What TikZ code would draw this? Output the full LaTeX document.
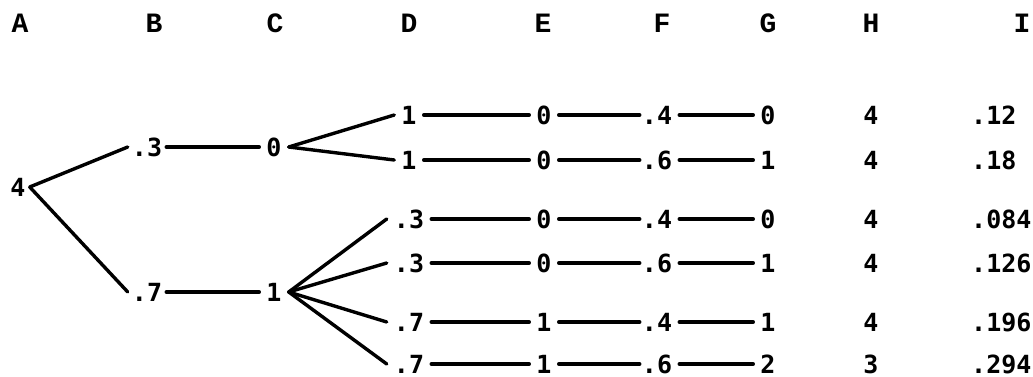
\documentclass[tikz,border=0pt]{standalone}
\usepackage{fontspec}
\newfontfamily\hdfont{Liberation Mono}
\newfontfamily\numfont{DejaVu Sans Mono}
\begin{document}
\begin{tikzpicture}[x=1pt,y=-1pt,
  hd/.style={font=\hdfont\bfseries\fontsize{28}{28}\selectfont, inner sep=0pt},
  num/.style={font=\numfont\bfseries\fontsize{25}{25}\selectfont, inner xsep=7pt, inner ysep=0pt},
  ln/.style={line width=3.4pt, line cap=round},
  toF/.style={ln, shorten >=-5pt}]
\useasboundingbox (0,0) rectangle (1033,377);
% header
\node[hd] (hA) at (20,23) {A};
\node[hd] (hB) at (154,23) {B};
\node[hd] (hC) at (275,23) {C};
\node[hd] (hD) at (409,23) {D};
\node[hd] (hE) at (543,23) {E};
\node[hd] (hF) at (662,23) {F};
\node[hd] (hG) at (768,23) {G};
\node[hd] (hH) at (871,23) {H};
\node[hd] (hI) at (1022,23) {I};
% tree
\node[num,inner xsep=4pt] (a) at (18,187) {4};
\node[num,inner xsep=4pt] (b1) at (147,147) {.3};
\node[num,inner xsep=4pt] (b2) at (147,292) {.7};
\node[num] (c1) at (274,147) {0};
\node[num] (c2) at (274,292) {1};
% rows
\foreach \r/\y/\d/\e/\f/\g/\h/\i in {
  1/115/1/0/.4/0/4/.12,
  2/160/1/0/.6/1/4/.18,
  3/219/.3/0/.4/0/4/.084,
  4/263/.3/0/.6/1/4/.126,
  5/322/.7/1/.4/1/4/.196,
  6/364/.7/1/.6/2/3/.294}{
  \node[num] (d\r) at (409,\y) {\d};
  \node[num] (e\r) at (544,\y) {\e};
  \node[num] (f\r) at (657,\y) {\f};
  \node[num] (g\r) at (768,\y) {\g};
  \node[num] (h\r) at (871,\y) {\h};
  \node[num,anchor=west,inner xsep=0pt] (i\r) at (971,\y) {\i};
}
\draw[ln] (a.east) -- (b1.west);
\draw[ln] (a.east) -- (b2.west);
\draw[ln] (b1) -- (c1);
\draw[ln] (b2) -- (c2);
\foreach \r in {1,2} \draw[ln] (c1.east) -- (d\r.west);
\foreach \r in {3,4,5,6} \draw[ln] (c2.east) -- (d\r.west);
\foreach \r in {1,...,6} {
  \draw[ln] (d\r) -- (e\r);
  \draw[toF] (e\r) -- (f\r);
  \draw[ln] (f\r) -- (g\r);
}
\end{tikzpicture}
\end{document}
